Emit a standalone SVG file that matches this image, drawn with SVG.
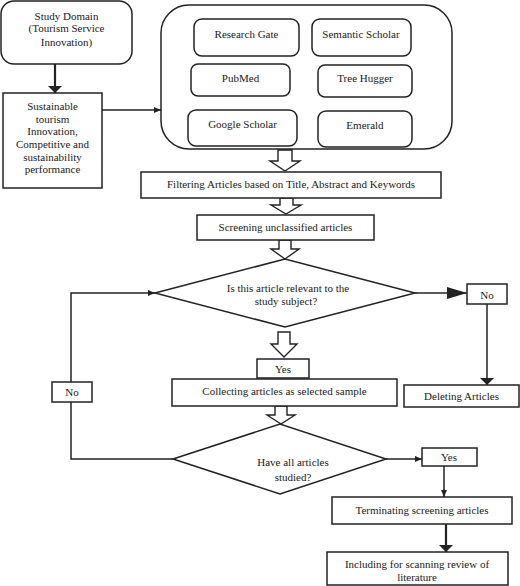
<svg xmlns="http://www.w3.org/2000/svg" width="520" height="586" viewBox="0 0 520 586">
<style>
  .box { fill: #fff; stroke: #222; stroke-width: 1.5; }
  .block { fill: #fff; stroke: #222; stroke-width: 1.4; stroke-linejoin: miter; }
  .ln { fill: none; stroke: #222; stroke-width: 1.5; }
  .thick { fill: none; stroke: #222; stroke-width: 2.2; }
  text { font-family: "Liberation Serif", "Times New Roman", serif; font-size: 11px; fill: #1a1a1a; text-anchor: middle; }
</style>
<defs>
  <marker id="sm" markerUnits="userSpaceOnUse" markerWidth="7" markerHeight="6" refX="7" refY="3" orient="auto">
    <path d="M0,0 L7,3 L0,6 z" fill="#222"/>
  </marker>
  <marker id="wide" markerUnits="userSpaceOnUse" markerWidth="7" markerHeight="14" refX="7" refY="7" orient="auto">
    <path d="M0,0 L7,7 L0,14 z" fill="#222"/>
  </marker>
  <marker id="big" markerUnits="userSpaceOnUse" markerWidth="20" markerHeight="12" refX="20" refY="6" orient="auto">
    <path d="M0,0 L20,6 L0,12 z" fill="#222"/>
  </marker>
</defs>

<g id="connectors">
  <line class="thick" x1="55" y1="64" x2="55" y2="93" marker-end="url(#wide)"/>
  <line class="ln" x1="102" y1="110" x2="161" y2="110" marker-end="url(#sm)"/>
  <polygon class="block" points="278,150 292,150 292,161 300,161 285,171 270,161 278,161"/>
  <polygon class="block" points="280,198 293,198 293,205 301,205 286,214 271,205 280,205"/>
  <polygon class="block" points="279,240 291,240 291,249 299,249 285,259 271,249 279,249"/>
  <polygon class="block" points="278,332 290,332 290,344 297,344 284,357 271,344 278,344"/>
  <polygon class="block" points="275,406 287,406 287,415 295,415 281,424 267,415 275,415"/>
  <line class="ln" x1="415" y1="293" x2="467" y2="293" marker-end="url(#big)"/>
  <line class="ln" x1="487" y1="304" x2="487" y2="385" marker-end="url(#wide)"/>
  <polyline class="ln" points="173,459 71,459 71,402"/>
  <polyline class="ln" points="71,382 71,293 155,293" marker-end="url(#sm)"/>
  <line class="ln" x1="386" y1="459" x2="422" y2="459" marker-end="url(#sm)"/>
  <line class="ln" x1="444" y1="466" x2="444" y2="497" marker-end="url(#sm)"/>
  <line class="thick" x1="446" y1="524" x2="446" y2="552" marker-end="url(#wide)"/>
</g>

<g id="study-domain">
  <rect class="box" x="1" y="1" width="131" height="63" rx="13"/>
  <text x="66.5" y="19.5">Study Domain</text>
  <text x="66.5" y="32">(Tourism Service</text>
  <text x="66.5" y="45.5">Innovation)</text>
</g>

<g id="sustainable">
  <rect class="box" x="3" y="93" width="99" height="95"/>
  <text x="52.5" y="110">Sustainable</text>
  <text x="52.5" y="122.5">tourism</text>
  <text x="52.5" y="135">Innovation,</text>
  <text x="52.5" y="148">Competitive and</text>
  <text x="52.5" y="160.5">sustainability</text>
  <text x="52.5" y="173">performance</text>
</g>

<g id="sources">
  <rect class="box" x="161" y="5" width="291" height="144" rx="28"/>
  <g id="research-gate">
    <rect class="box" x="194" y="19" width="105" height="37" rx="8"/>
    <text x="246.5" y="38">Research Gate</text>
  </g>
  <g id="semantic-scholar">
    <rect class="box" x="312" y="19" width="99" height="37" rx="8"/>
    <text x="361" y="38">Semantic Scholar</text>
  </g>
  <g id="pubmed">
    <rect class="box" x="191" y="64" width="99" height="32" rx="7"/>
    <text x="240.5" y="81.5">PubMed</text>
  </g>
  <g id="tree-hugger">
    <rect class="box" x="318" y="65" width="94" height="32" rx="7"/>
    <text x="365" y="81.5">Tree Hugger</text>
  </g>
  <g id="google-scholar">
    <rect class="box" x="188" y="110" width="109" height="36" rx="8"/>
    <text x="242.5" y="128">Google Scholar</text>
  </g>
  <g id="emerald">
    <rect class="box" x="318" y="111" width="94" height="36" rx="8"/>
    <text x="365" y="129">Emerald</text>
  </g>
</g>

<g id="filtering">
  <rect class="box" x="141" y="172" width="300" height="26"/>
  <text x="291" y="188">Filtering Articles based on Title, Abstract and Keywords</text>
</g>

<g id="screening">
  <rect class="box" x="197" y="215" width="177" height="25"/>
  <text x="285.5" y="231">Screening unclassified articles</text>
</g>

<g id="decision-relevant">
  <polygon class="box" points="155,293 285,259 415,293 285,327"/>
  <text x="288" y="291.5">Is this article relevant to the</text>
  <text x="286" y="305">study subject?</text>
</g>

<g id="no-right">
  <rect class="box" x="467" y="284" width="40" height="20"/>
  <text x="487" y="298.5">No</text>
</g>

<g id="deleting">
  <rect class="box" x="404" y="385" width="115" height="22"/>
  <text x="461.5" y="400">Deleting Articles</text>
</g>

<g id="yes-mid">
  <rect class="box" x="257" y="359" width="52" height="19"/>
  <text x="283" y="372.5">Yes</text>
</g>

<g id="collecting">
  <rect class="box" x="172" y="379" width="225" height="27"/>
  <text x="284.5" y="395">Collecting articles as selected sample</text>
</g>

<g id="no-left">
  <rect class="box" x="52" y="382" width="40" height="20"/>
  <text x="72" y="396">No</text>
</g>

<g id="decision-all">
  <polygon class="box" points="173,459 280,424 386,459 280,494"/>
  <text x="293" y="465.5">Have all articles</text>
  <text x="293" y="480.5">studied?</text>
</g>

<g id="yes-right">
  <rect class="box" x="422" y="448" width="55" height="18"/>
  <text x="449" y="461">Yes</text>
</g>

<g id="terminating">
  <rect class="box" x="332" y="497" width="180" height="27"/>
  <text x="422" y="514">Terminating screening articles</text>
</g>

<g id="including">
  <rect class="box" x="327" y="552" width="181" height="33"/>
  <text x="417" y="567.5">Including for scanning review of</text>
  <text x="417" y="580.5">literature</text>
</g>
</svg>
